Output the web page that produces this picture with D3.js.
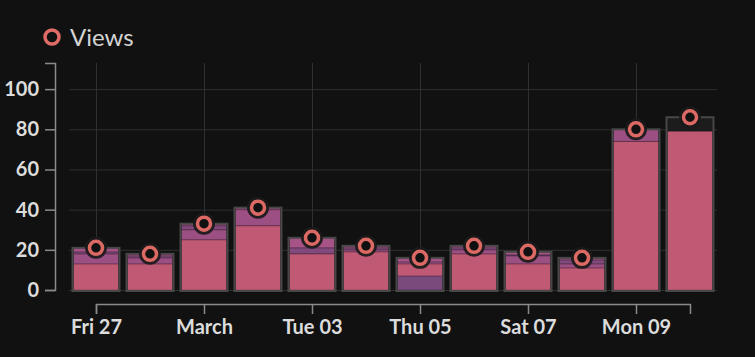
<!DOCTYPE html>
<html><head><meta charset="utf-8">
<script src="https://cdn.jsdelivr.net/npm/d3@7"></script>
<style>
html,body{margin:0;padding:0;background:#111111;}
svg{display:block;}
text{font-family:Lato,"Open Sans",sans-serif;}
</style></head>
<body>
<svg id="chart" width="755" height="357"></svg>
<script>
// ---- data ----
const days = ["2015-02-27","2015-02-28","2015-03-01","2015-03-02","2015-03-03","2015-03-04",
              "2015-03-05","2015-03-06","2015-03-07","2015-03-08","2015-03-09","2015-03-10"];
const views = [21, 18, 33, 41, 26, 22, 16, 22, 19, 16, 80, 86];
const seriesBase    = [0, 0, 0, 0, 0, 0, 7, 0, 0, 0, 0, 0];
const seriesPink    = [13, 13, 25, 32, 18, 19, 6, 18, 13, 11, 74, 79];
const seriesMagenta = [5, 3, 5, 8, 0, 1, 1, 2, 4, 2, 6, 0];
const seriesViolet  = [1, 1, 2, 0, 3, 1, 0, 1, 0.5, 2, 0, 0];
const seriesTop     = [2, 1, 1, 1, 5, 1, 2, 1, 1.5, 1, 0, 0];
const seriesNames = ["base","pink","magenta","violet","top"];
const seriesColors = ["#7b4a7c","#c05a74","#9c4f82","#82497c","#a65388"];
const yTicks = [0, 20, 40, 60, 80, 100];
const xTickDays = ["2015-02-27","2015-03-01","2015-03-03","2015-03-05","2015-03-07","2015-03-09"];
const xTickLabels = ["Fri 27","March","Tue 03","Thu 05","Sat 07","Mon 09"];
const legendLabel = "Views";

// ---- build ----
const parse = d3.utcParse("%Y-%m-%d");
const dates = days.map(parse);
const rows = dates.map((d, i) => ({
  date: d, views: views[i],
  base: seriesBase[i], pink: seriesPink[i], magenta: seriesMagenta[i],
  violet: seriesViolet[i], top: seriesTop[i]
}));

const svg = d3.select("#chart");
const x = d3.scaleUtc().domain([dates[0], dates[dates.length - 1]]).range([96, 690]);
const y = d3.scaleLinear().domain([0, 113]).range([290, 63]);
const dayW = x(dates[1]) - x(dates[0]);
const barW = dayW * 0.87;

// gridlines
const grid = svg.append("g");
grid.selectAll("line.h").data(yTicks).join("line")
  .attr("x1", 69).attr("x2", 717)
  .attr("y1", d => y(d) + 0.5).attr("y2", d => y(d) + 0.5)
  .attr("stroke", "#303030").attr("stroke-width", 1);
grid.selectAll("line.v").data(xTickDays.map(parse)).join("line")
  .attr("x1", d => Math.round(x(d)) + 0.5).attr("x2", d => Math.round(x(d)) + 0.5)
  .attr("y1", y.range()[1]).attr("y2", y(0))
  .attr("stroke", "#303030").attr("stroke-width", 1);

// outer total bars
const bars = svg.append("g");
bars.selectAll("rect.outer").data(rows).join("rect")
  .attr("x", d => x(d.date) - barW / 2)
  .attr("y", d => y(d.views))
  .attr("width", barW)
  .attr("height", d => y(0) - y(d.views) + 1)
  .attr("fill", "#1c1c1c");

// stacked segments
const stack = d3.stack().keys(seriesNames)(rows);
const seg = svg.append("g");
stack.forEach((layer, li) => {
  seg.selectAll(null).data(layer.filter(s => s[1] - s[0] > 0)).join("rect")
    .attr("x", s => x(s.data.date) - barW / 2 + 1)
    .attr("y", s => y(s[1]))
    .attr("width", barW - 2)
    .attr("height", s => y(s[0]) - y(s[1]))
    .attr("fill", seriesColors[li])
    .attr("stroke", "rgba(0,0,0,0.22)")
    .attr("stroke-width", 1);
});

// outer outline
svg.append("g").selectAll("rect").data(rows).join("rect")
  .attr("x", d => x(d.date) - barW / 2)
  .attr("y", d => y(d.views))
  .attr("width", barW)
  .attr("height", d => y(0) - y(d.views) + 1)
  .attr("fill", "none")
  .attr("stroke", "#474747")
  .attr("stroke-width", 2);

// axes
const yAxis = svg.append("g").attr("transform", "translate(55,0)")
  .call(d3.axisLeft(y).tickValues(yTicks).tickSize(10).tickSizeOuter(10).tickPadding(6));
const xAxis = svg.append("g").attr("transform", "translate(0,304)")
  .call(d3.axisBottom(x).tickValues(xTickDays.map(parse))
    .tickFormat((d, i) => xTickLabels[i]).tickSize(10).tickSizeOuter(10).tickPadding(6));
[yAxis, xAxis].forEach(g => {
  g.select(".domain").attr("stroke", "#8a8a8a").attr("stroke-width", 1.5);
  g.selectAll(".tick line").attr("stroke", "#8a8a8a").attr("stroke-width", 1.5);
  g.selectAll(".tick text").attr("fill", "#dcdcdc")
    .style("font-family", "Lato, sans-serif").style("font-size", "20px").style("font-weight", "700");
});

// points
const pts = svg.append("g");
pts.selectAll("circle.halo").data(rows).join("circle")
  .attr("cx", d => x(d.date)).attr("cy", d => y(d.views)).attr("r", 11)
  .attr("fill", "#1a1a1a").attr("fill-opacity", 0.92);
pts.selectAll("circle.pt").data(rows).join("circle")
  .attr("cx", d => x(d.date)).attr("cy", d => y(d.views)).attr("r", 6.5)
  .attr("fill", "#111111").attr("stroke", "#dc6964").attr("stroke-width", 3.5);

// legend
svg.append("circle").attr("cx", 52).attr("cy", 37).attr("r", 7)
  .attr("fill", "#111111").attr("stroke", "#e06c68").attr("stroke-width", 3.5);
svg.append("text").attr("x", 70).attr("y", 46).text(legendLabel)
  .attr("fill", "#d4d4d4").style("font-size", "24px").style("font-weight", "400");
</script>
</body></html>
